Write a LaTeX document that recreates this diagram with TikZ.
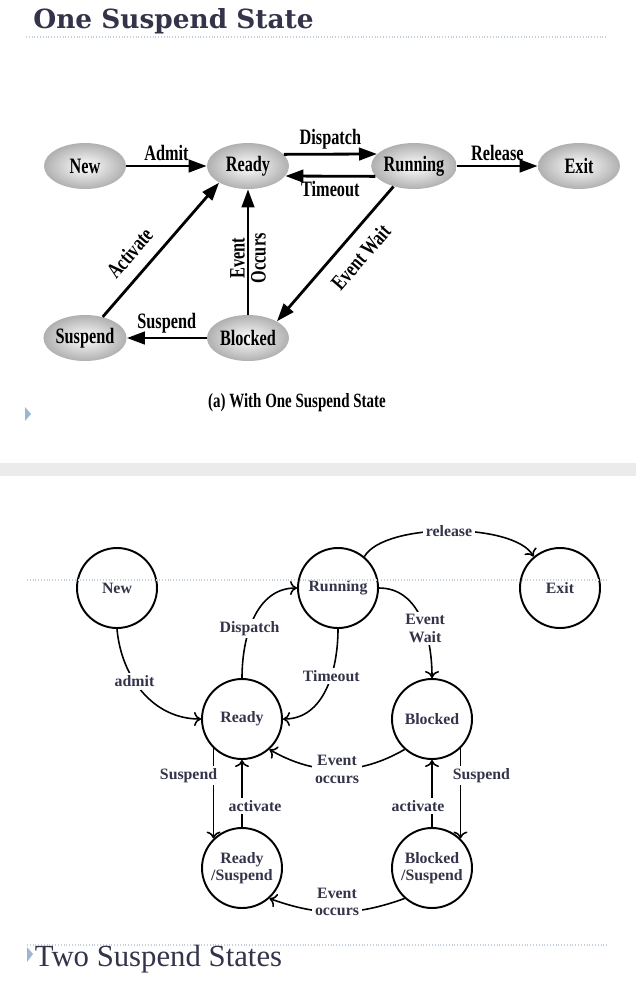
\documentclass[tikz,border=0pt]{standalone}
\usepackage{fontspec}
\setmainfont{Liberation Serif}
\newfontfamily\slidefont{DejaVu Serif}
\newfontfamily\narrowfont{Liberation Serif}[FakeStretch=0.74]
\usetikzlibrary{arrows.meta,shapes.geometric}
\definecolor{slate}{HTML}{33334A}
\definecolor{rule}{HTML}{C3D1DF}
\definecolor{bullet}{HTML}{9DB6D3}
\tikzset{
  state/.style={ellipse, minimum width=16.4mm, minimum height=9.2mm, inner sep=0pt,
    inner color=white, outer color=gray!62, font=\narrowfont\bfseries\fontsize{12.5}{13}\selectfont},
  move/.style={line width=1.6pt, -{Triangle[length=3.6mm,width=2.5mm]}},
  tag/.style={font=\narrowfont\bfseries\fontsize{12.5}{12}\selectfont, inner sep=2pt},
  circ/.style={circle, draw, line width=1.1pt, minimum size=16mm, inner sep=0pt, align=center,
    text=slate, font=\bfseries\fontsize{9}{10}\selectfont},
  trans/.style={line width=0.9pt, -{To[length=1.4mm,width=2.8mm]}},
  note/.style={fill=white, inner sep=1.5pt, align=center, text=slate, font=\bfseries\fontsize{9}{10}\selectfont},
  dots/.style={rule, line width=0.7pt, dash pattern=on 0.5pt off 1.1pt}
}
\begin{document}
\begin{tikzpicture}[x=0.2mm, y=-0.2mm]
			\useasboundingbox (0,0) rectangle (636,997);
			%%%%% ONE SUSPEND STATE %%%%%
			\node[anchor=base west, inner sep=0pt, text=slate, font=\slidefont\bfseries\fontsize{15}{16}\selectfont] (title1) at (33,28) {One Suspend State};
			\draw[dots] (26,37) -- (607,37);
			
			\node[state] (new) at (85,166) {New};
			\node[state] (ready) at (248,166) {Ready};
			\node[state] (running) at (414,166) {Running};
			\node[state] (exit) at (579,166) {Exit};
			\node[state] (suspend) at (85,338) {Suspend};
			\node[state] (blocked) at (248,338) {Blocked};
			
			\draw[move] (new) -- node[tag, above] {Admit} (ready);
			\draw[move] (ready.18) -- node[tag, above] {Dispatch} (running.162);
			\draw[move] (running.-165) -- node[tag, below] {Timeout} (ready.-15);
			\draw[move] (running) -- node[tag, above] {Release} (exit);
			\draw[move] (running.-135) -- node[tag, sloped, below=5pt, pos=0.42] {Event Wait} (blocked.30);
			\draw[move] (blocked) -- node[tag, pos=0.45, rotate=90, align=center] {Event\\Occurs} (ready);
			\draw[move] (blocked) -- node[tag, above] {Suspend} (suspend);
			\draw[move] (suspend.50) -- node[tag, sloped, above=5pt, pos=0.37] {Activate} (ready.-150);
			
			\node[font=\narrowfont\bfseries\fontsize{11.5}{12}\selectfont] (capa) at (297,403) {(a) With One Suspend State};
			\fill[bullet] (25,407) -- (31,414) -- (25,421) -- cycle;
			
			\fill[black!8] (0,463) rectangle (636,476);
			
			%%%%% TWO SUSPEND STATES %%%%%
			\node[circ] (nw) at (117,588) {New};
			\node[circ] (run) at (338,588) {Running};
			\node[circ] (ext) at (560,588) {Exit};
			\node[circ] (rdy) at (242,719) {Ready};
			\node[circ] (blk) at (432,719) {Blocked};
			\node[circ] (rsus) at (242,868) {Ready\\/Suspend};
			\node[circ] (bsus) at (432,868) {Blocked\\/Suspend};
			
			\draw[trans] (nw.south) to[out=-85, in=180] node[note, pos=0.4] {admit} (rdy.west);
			\draw[trans] (rdy.north) to[out=90, in=180] node[note, pos=0.4] {Dispatch} (run.west);
			\draw[trans] (run.south) to[out=-90, in=0] node[note, pos=0.38] {Timeout} (rdy.east);
			\draw[trans] (run.50) to[out=60, in=120, looseness=0.6] node[note] {release} (ext.130);
			\draw[trans] (run.east) to[out=0, in=90] node[note, pos=0.6] {Event\\Wait} (blk.north);
			\draw[trans] (rdy.-134) -- node[note, pos=0.3, xshift=-5mm] {Suspend} (rsus.134);
			\draw[trans] (rsus.north) -- node[note, pos=0.31, xshift=2.6mm] {activate} (rdy.south);
			\draw[trans] (blk.-132) to[out=210, in=-30] node[note] {Event\\occurs} (rdy.-48);
			\draw[trans] (blk.-46) -- node[note, pos=0.3, xshift=4.2mm] {Suspend} (bsus.46);
			\draw[trans] (bsus.north) -- node[note, pos=0.31, xshift=-2.8mm] {activate} (blk.south);
			\draw[trans] (bsus.-132) to[out=200, in=-20] node[note, yshift=2mm] {Event\\occurs} (rsus.-48);
			
			\draw[dots] (27,580) -- (607,580);
			\draw[dots] (27,945) -- (607,945);
			\fill[bullet] (27,947) -- (33,954) -- (27,962) -- cycle;
			\node[anchor=base west, inner sep=0pt, text=slate, font=\fontsize{17.5}{18}\selectfont] (title2) at (34.5,966.5) {Two Suspend States};
		\end{tikzpicture}
\end{document}
